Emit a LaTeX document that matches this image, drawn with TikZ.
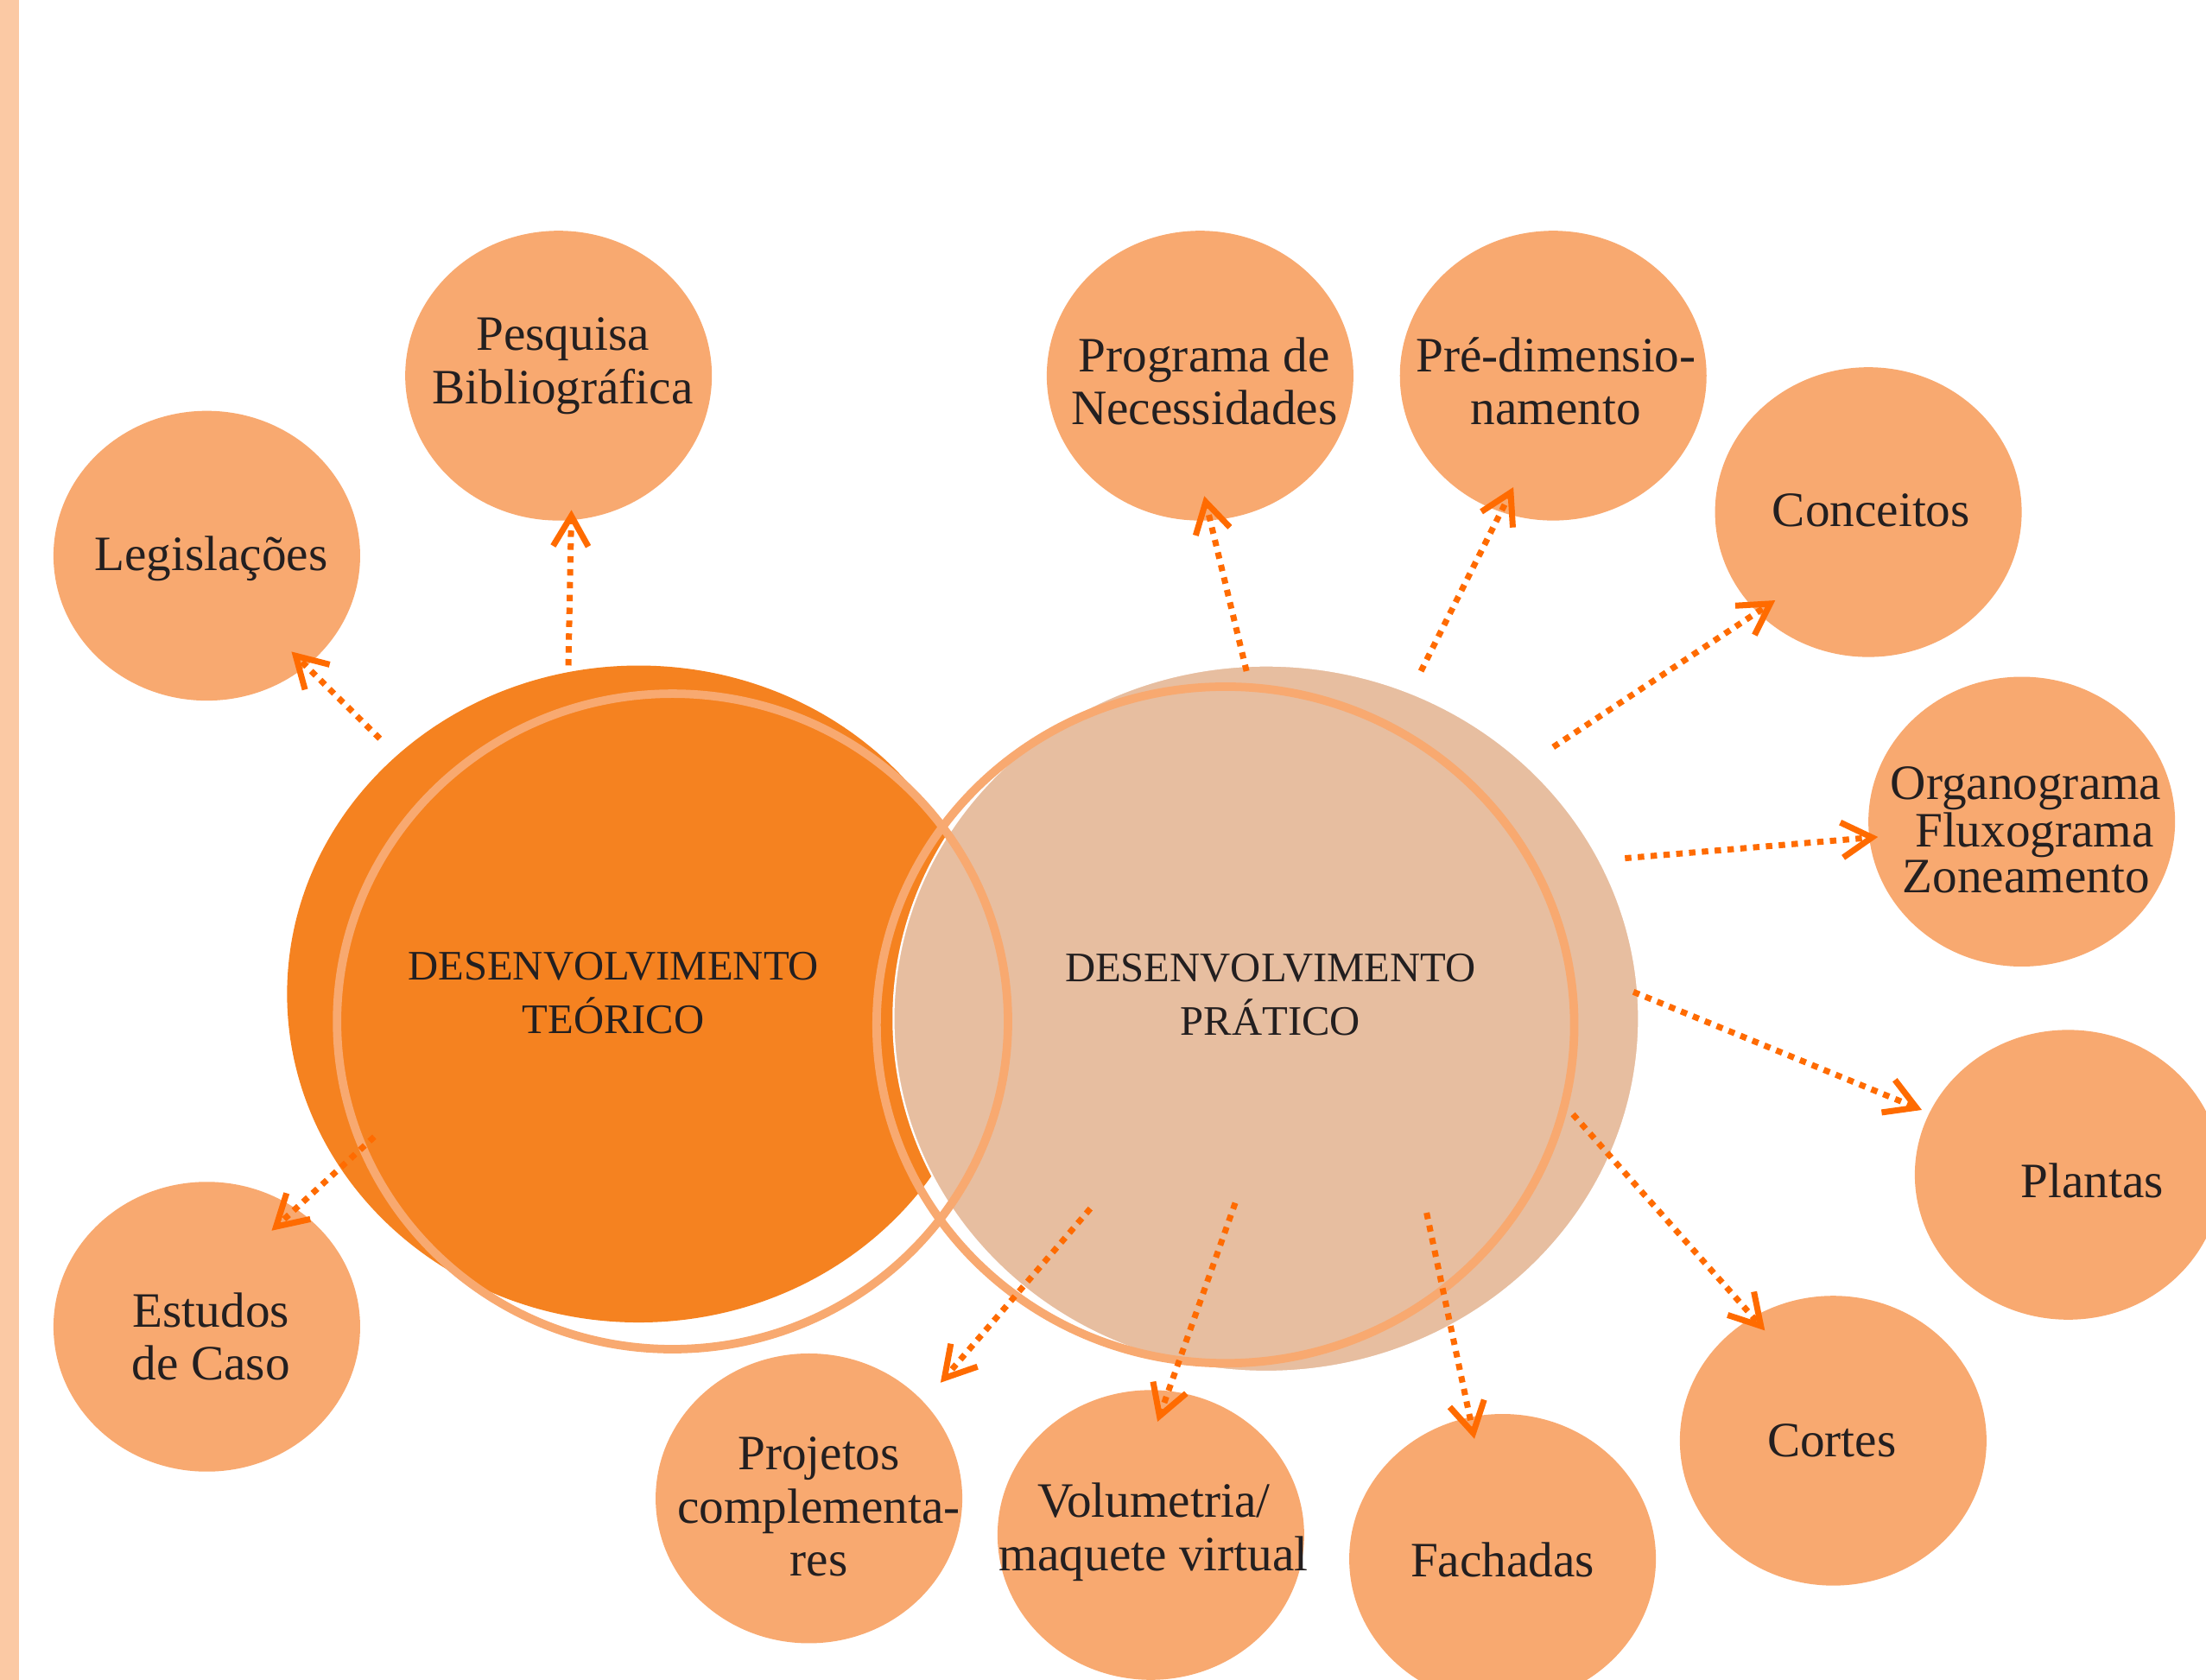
\documentclass[tikz,border=0pt]{standalone}
\usepackage{fontspec}
\setmainfont{Liberation Serif}
\usetikzlibrary{arrows.meta,shapes.geometric}
\definecolor{stripc}{HTML}{FBC9A4}
\definecolor{teoc}{HTML}{F58220}
\definecolor{prac}{HTML}{E7BEA0}
\definecolor{bubc}{HTML}{F8A970}
\definecolor{arrc}{HTML}{FF6B00}
\definecolor{txtc}{HTML}{231F20}
\tikzset{
  bubble/.style={ellipse, fill=bubc, minimum width=4.36cm, minimum height=4.12cm, inner sep=0pt},
  btxt/.style={align=center, text=txtc, font=\fontsize{20}{21.6}\selectfont, inner sep=0pt},
  ctxt/.style={align=center, text=txtc, font=\fontsize{17}{21.6}\selectfont, inner sep=0pt},
  ring/.style={draw=bubc, line width=0.12cm},
  conn/.style={draw=arrc, line width=2.45pt, dash pattern=on 2.6pt off 2.6pt,
    -{Straight Barb[length=0.43cm, width=0.5cm]}}
}
\begin{document}
\begin{tikzpicture}[x=0.02cm,y=-0.02cm]
\useasboundingbox (0,0) rectangle (1568,1194);
\clip (0,0) rectangle (1568,1194);
\fill[white] (0,0) rectangle (1568,1194);
\fill[stripc] (0,0) rectangle (13.5,1194);

% big circles
\node[ellipse, fill=teoc, minimum width=10cm, minimum height=9.34cm, inner sep=0pt] (teo) at (454,706.5) {};
\node[ellipse, fill=prac, draw=white, line width=0.8pt, minimum width=10.6cm, minimum height=10.04cm, inner sep=0pt] (pra) at (900,724) {};
\draw[ring] (478,726) ellipse [x radius=4.77cm, y radius=4.66cm];
\draw[ring] (871,728.5) ellipse [x radius=4.96cm, y radius=4.81cm];

\node[ctxt] (teoT) at (436,706) {DESENVOLVIMENTO\\TEÓRICO};
\node[ctxt] (praT) at (903,707) {DESENVOLVIMENTO\\PRÁTICO};

% bubbles
\node[bubble] (pesq) at (397,267) {};
\node[bubble] (legis) at (147,395) {};
\node[bubble] (estu) at (147,943) {};
\node[bubble] (prog) at (853,267) {};
\node[bubble] (pred) at (1104,267) {};
\node[bubble] (conc) at (1328,364) {};
\node[bubble] (orga) at (1437,584) {};
\node[bubble] (plan) at (1470,835) {};
\node[bubble] (cort) at (1303,1024) {};
\node[bubble] (fach) at (1068,1108) {};
\node[bubble] (volu) at (818,1091) {};
\node[bubble] (proj) at (575,1065) {};

\node[btxt] (pesqT) at (400,260) {Pesquisa\\Bibliográfica};
\node[btxt] (legisT) at (150,397) {Legislações};
\node[btxt] (estuT) at (150,950) {Estudos\\de Caso};
\node[btxt] (progT) at (856,271) {Programa de\\Necessidades};
\node[btxt] (predT) at (1106,271) {Pré-dimensio-\\namento};
\node[btxt] (concT) at (1330,363) {Conceitos};
\node[align=center, text=txtc, font=\fontsize{20}{16.8}\selectfont, inner sep=0pt] (orgaT) at (1440,590) {Organograma\\\hspace*{0.35em}Fluxograma\\Zoneamento};
\node[btxt] (planT) at (1487,839) {Plantas};
\node[btxt] (cortT) at (1302,1024) {Cortes};
\node[btxt] (fachT) at (1068,1109) {Fachadas};
\node[btxt] (voluT) at (820,1089) {Volumetria/\\maquete virtual};
\node[btxt] (projT) at (582,1071) {Projetos\\complementa-\\res};

% connector start points
\coordinate (s1) at (404,473);
\coordinate (s2) at (270,525);
\coordinate (s3) at (266,808);
\coordinate (s4) at (886,477);
\coordinate (s5) at (1010,477);
\coordinate (s6) at (1104,531);
\coordinate (s7) at (1155,610);
\coordinate (s8) at (1161,705);
\coordinate (s9) at (1118,792);
\coordinate (s10) at (1014,862);
\coordinate (s11) at (878,855);
\coordinate (s12) at (775,859);

\draw[conn, shorten >=-0.15cm] (s1) -- (pesq.-85.8);
\draw[conn, shorten >=-0.30cm] (s2) -- (legis.-48.6);
\draw[conn, shorten >=-0.47cm] (s3) -- (estu.53);
\draw[conn, shorten >=-0.36cm] (s4) -- (prog.-86.6);
\draw[conn, shorten >=-0.40cm] (s5) -- (pred.-111.7);
\draw[conn, shorten >=-0.31cm] (s6) -- (conc.-138.6);
\draw[conn, shorten >=-0.13cm] (s7) -- (orga.-174.4);
\draw[conn, shorten >=0.11cm] (s8) -- (plan.156.1);
\draw[conn, shorten >=-0.26cm] (s9) -- (cort.123.9);
\draw[conn, shorten >=-0.32cm] (s10) -- (fach.103.2);
\draw[conn, shorten >=-0.47cm] (s11) -- (volu.83.5);
\draw[conn, shorten >=0.36cm] (s12) -- (proj.40.8);
\end{tikzpicture}
\end{document}
